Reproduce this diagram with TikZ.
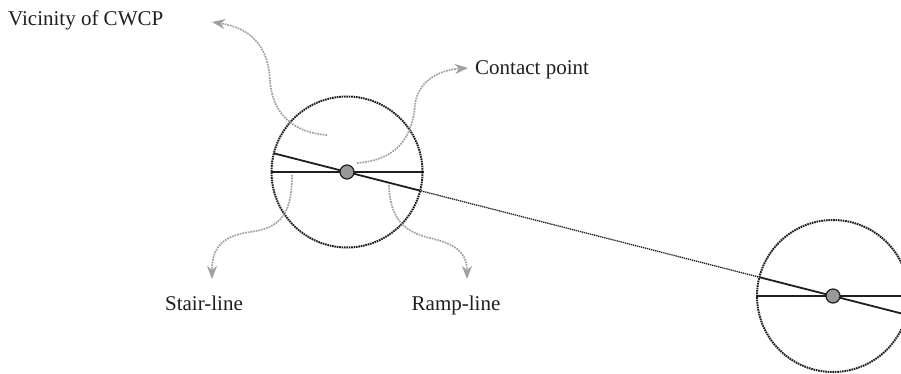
\documentclass[tikz,border=0pt]{standalone}
\usepackage{fontspec}
\setmainfont{Liberation Serif}
\usetikzlibrary{arrows.meta,calc}
\definecolor{dotgray}{RGB}{153,153,153}
\definecolor{arrowgray}{RGB}{160,160,160}
\definecolor{linedark}{RGB}{30,30,30}
\tikzset{
  zone/.style={circle,draw=linedark,line width=2pt,dash pattern=on 1.6pt off 0.8pt,inner sep=0pt,minimum size=#1},
  cpoint/.style={circle,draw=linedark,fill=dotgray,line width=1.2pt,inner sep=0pt,minimum size=14pt},
  axis/.style={draw=linedark,line width=1.8pt},
  link/.style={draw=linedark,line width=1.3pt,dash pattern=on 1.3pt off 0.8pt},
  pointer/.style={draw=arrowgray,line width=1.7pt,densely dotted,
    -{Stealth[length=13pt,width=10pt,inset=4pt,fill=arrowgray]}},
  caption/.style={inner sep=0pt,font=\fontsize{21}{25}\selectfont,text=black!88}
}
\begin{document}
\begin{tikzpicture}[x=1pt,y=-1pt]
  \useasboundingbox (0,0) rectangle (901,374);
  \clip (0,0) rectangle (901,374);

  % the two contact zones
  \node[zone=151pt] (c1) at (347,172) {};
  \node[zone=152pt] (c2) at (833,296) {};

  % ramp direction through both contact points
  \coordinate (r1a) at ($(c1.center)!-75.5pt!(c2.center)$);
  \coordinate (r1b) at ($(c1.center)!75.5pt!(c2.center)$);
  \coordinate (r2a) at ($(c2.center)!76pt!(c1.center)$);
  \coordinate (r2b) at ($(c2.center)!-120pt!(c1.center)$);
  \draw[link] (c1) -- (c2);
  \draw[axis] (r1a) -- (r1b);
  \draw[axis] (r2a) -- (r2b);

  % stair lines
  \draw[axis] (c1.west) -- (c1.east);
  \draw[axis] (c2.west) -- (c2.east);

  % contact points
  \node[cpoint] (p1) at (c1.center) {};
  \node[cpoint] (p2) at (c2.center) {};

  % labels
  \node[caption,anchor=base west] (lv) at (8,26) {Vicinity of CWCP};
  \node[caption,anchor=base west] (lc) at (475,75) {Contact point};
  \node[caption,anchor=base] (ls) at (204,310) {Stair-line};
  \node[caption,anchor=base] (lr) at (456,310) {Ramp-line};

  % pointer arrows
  \coordinate (sv) at (327,135);
  \coordinate (ev) at (212,22);
  \coordinate (sc) at (357,163);
  \coordinate (ec) at (468,68);
  \coordinate (ss) at (292,175);
  \coordinate (es) at (212,279);
  \coordinate (sr) at (389,185);
  \coordinate (er) at (467,279);
  \draw[pointer] (sv) .. controls (295,133) and (272,115) .. (270,80)
                      .. controls (268,45) and (250,28) .. (ev);
  \draw[pointer] (sc) .. controls (395,160) and (412,140) .. (415,105)
                      .. controls (418,80) and (440,70) .. (ec);
  \draw[pointer] (ss) .. controls (292,215) and (280,228) .. (250,232)
                      .. controls (220,236) and (212,250) .. (es);
  \draw[pointer] (sr) .. controls (390,220) and (405,232) .. (430,238)
                      .. controls (455,244) and (467,252) .. (er);
\end{tikzpicture}
\end{document}
